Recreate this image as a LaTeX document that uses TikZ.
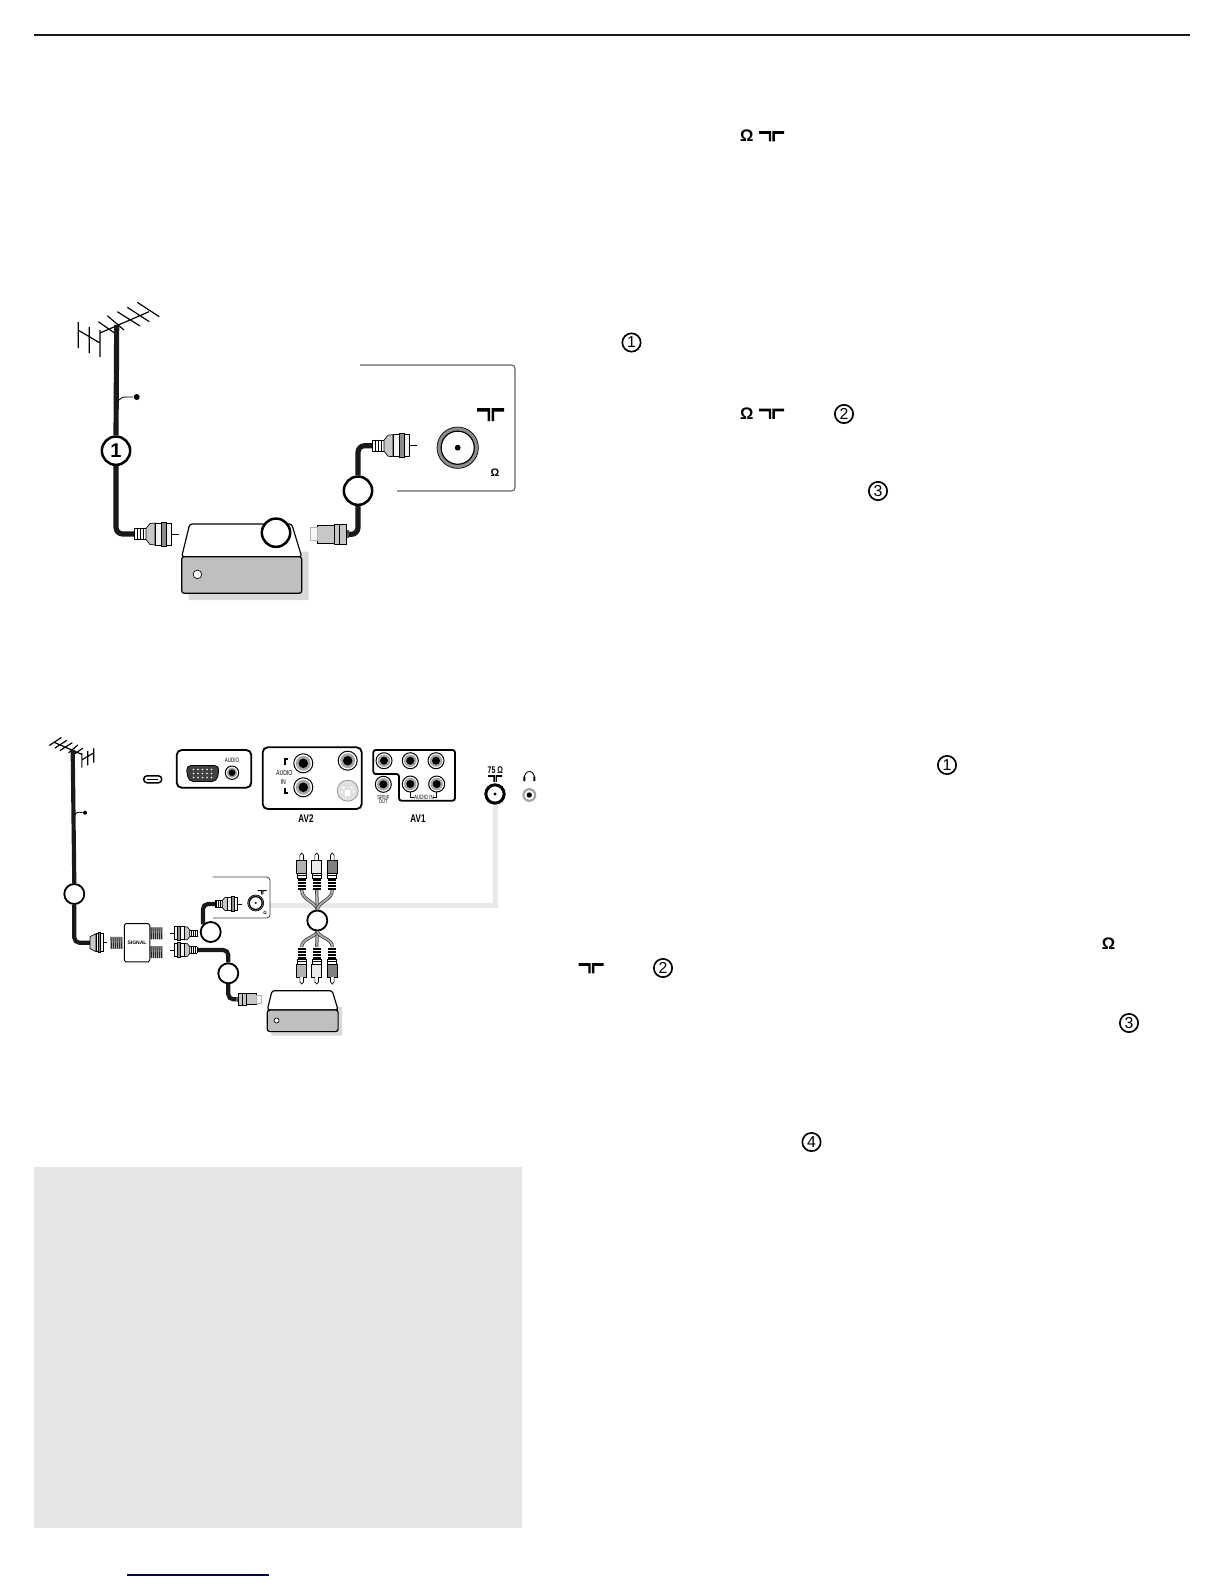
\documentclass[tikz,border=0pt]{standalone}
\usepackage{fontspec}
\setmainfont{Liberation Sans}
\newfontfamily\condfont[FakeStretch=0.72]{Liberation Sans}
\usetikzlibrary{positioning,shapes}
\tikzset{
cable/.style={line width=3.1pt,rounded corners=4pt,black!90},
cablethin/.style={line width=2.5pt,rounded corners=3pt,black!90},
numcirc/.style={circle,draw,fill=white,line width=1.5pt,minimum size=17pt,inner sep=0pt,font=\bfseries\fontsize{12}{12}\selectfont},
numsmall/.style={numcirc,line width=1.1pt,minimum size=12pt},
inlinenum/.style={circle,draw,line width=1pt,minimum size=11pt,inner sep=0pt,font=\fontsize{9.5}{9.5}\selectfont},
lbl/.style={inner sep=0pt,font=\condfont\fontsize{#1}{#1}\selectfont},
lblb/.style={inner sep=0pt,font=\condfont\bfseries\fontsize{#1}{#1}\selectfont},
panelline/.style={draw=black!60,line width=.7pt,rounded corners=2pt},
avpanel/.style={draw=black,line width=1.1pt,rounded corners=3pt},
rcacable/.style={draw=black!80,line width=1.9pt,postaction={draw=black!30,line width=1pt}},
pics/aerial/.style={code={
\draw[line width=.7pt] (-38.4,-3) -- (-38.4,23) (-27.4,2) -- (-27.4,28) (-16.7,5) -- (-16.7,32)
 (-38.7,5) -- (-16.7,18) (-16.7,8) -- (32.3,-13.3) (-18.4,-3.3) -- (-1.7,8.3) (-9.4,-9.3) -- (7.3,5)
 (0.6,-13.3) -- (23.3,1) (10.6,-17.7) -- (32.6,-3.3) (20.6,-22.7) -- (42.6,-8.3);
}},
pics/fplug/.style={code={
\fill[white] (0,-5.5) rectangle (12,5.5);
\foreach \k in {0,3,6,9,12} \draw[line width=.6pt] (\k,-5.5) -- (\k,5.5);
\draw[line width=.5pt] (0,-5.5) -- (12,-5.5) (0,5.5) -- (12,5.5);
\draw[fill=black!22,line width=.4pt] (12,-5.5) -- (16,-10.5) -- (21,-11) -- (21,11) -- (16,10.5) -- (12,5.5) -- cycle;
\draw[fill=black!5,line width=.6pt] (21,-11) rectangle (37,11);
\draw[fill=black!45,line width=.5pt] (27,-12) rectangle (32,12);
\draw[line width=.6pt] (37,0) -- (45,0);
}},
pics/fplugshort/.style={code={
\draw[fill=black!22,line width=.4pt] (0,-6) -- (6,-9) -- (6,9) -- (0,6) -- cycle;
\draw[fill=black!5,line width=.5pt] (6,-9) rectangle (13,9);
\draw[fill=black!45,line width=.4pt] (8.5,-10) rectangle (10.5,10);
\draw[line width=.5pt] (13,0) -- (17,0);
}},
pics/mplug/.style={code={
\fill[black!70] (0,-4) rectangle (3,4);
\draw[fill=black!22,line width=.5pt] (3,-10) rectangle (15,10);
\draw[line width=.5pt] (10,-10) -- (10,10);
\draw[fill=black!22,line width=.5pt] (15,-9) rectangle (32,9);
\draw[fill=black!3,draw=black!30,line width=.4pt] (32,-6.5) rectangle (39,6.5);
}},
pics/threadbit/.style={code={
\fill[black!30] (0,-6) rectangle (13,6);
\foreach \k in {1,3,5,7,9,11} \draw[line width=.55pt,black!85] (\k,-6) -- (\k+.6,6);
}},
pics/rcaplug/.style={code={
\foreach \k in {1.5,4.5,7.5,10.5} \draw[line width=1.2pt] (-4,-\k) -- (4,-\k);
\draw[fill=white,line width=.4pt] (-4.5,-12) rectangle (4.5,-17);
\draw[line width=.9pt] (-4.5,-14.5) -- (4.5,-14.5);
\draw[fill=#1,line width=.4pt] (-5,-17) rectangle (5,-30);
\draw[fill=white,line width=.4pt] (-1.8,-30) -- (-1.8,-35) -- (0,-37) -- (1.8,-35) -- (1.8,-30);
}},
pics/jackpic/.style={code={
\draw[fill=white,line width=.6pt] (0,0) circle (1);
\fill[black!35] (0,0) circle (.78);
\fill[black] (0,0) circle (.5);
}},
pics/phonejack/.style={code={
\fill[black!35] (0,0) circle (1);
\fill[white] (0,0) circle (.68);
\fill[black] (0,0) circle (.38);
}},
pics/coax/.style={code={
\draw[fill=black!45,line width=.4pt] (0,0) circle (1);
\draw[fill=white,line width=.7pt] (0,0) circle (.8);
\fill[black] (0,0) circle (.14);
}},
pics/tsym/.style={code={
\fill (0,0) rectangle (13,3.6) (10.5,0) rectangle (13,13) (14.5,0) rectangle (27,3.6) (14.5,0) rectangle (17,13);
}},
pics/recvbox/.style={code={
\fill[black!15] (7,0) -- (7,43.5) -- (127,43.5) -- (127,-5) -- (119,-5) -- cycle;
\draw[fill=white,line width=.7pt,rounded corners=1.5pt] (0,0) -- (8,-32.7) -- (110,-32.7) -- (120,0) -- cycle;
\draw[fill=black!25,line width=.7pt,rounded corners=1.5pt] (0,0) rectangle (120,36.6);
\draw[fill=white,line width=.4pt] (15.7,17.7) circle (4.3);
}}
}
\begin{document}
\begin{tikzpicture}[x=.6pt,y=-.6pt]
\useasboundingbox (0,0) rectangle (1224,1584);
\fill[black!10] (34,1167) rectangle (522,1528);
\draw[line width=1.2pt,black!90] (34,35) -- (1190,35);
\draw[line width=.9pt,blue!40!black] (127,1575) -- (269,1575);

\node[numcirc] (cableA) at (116,450.7) {1};
\node[numcirc] (cableB) at (358,490.7) {};
\coordinate (mastA) at (116.7,325);
\coordinate (plugA) at (134,534);
\coordinate (plugB) at (372,445.7);
\coordinate (plugC) at (349,534.3);
\node[circle,fill,inner sep=0pt,minimum size=3.6pt] (leadA) at (136.7,397) {};
\coordinate (leadAs) at (119,400);
\pic at (mastA) {aerial};
\draw[cable,rounded corners=0pt] (mastA) -- (cableA.north);
\draw[cable] (cableA.south) |- (plugA);
\draw[cable] (cableB.north) |- (plugB);
\draw[cable] (cableB.south) |- (plugC);
\draw[line width=.5pt] (leadAs) .. controls (121,397) .. (leadA);
\pic at (plugA) {fplug};
\pic at (plugB) {fplug};
\pic[rotate=180] at (plugC) {mplug};
\pic at (181.7,556.7) {recvbox};
\node[numcirc] (boxA) at (276,532.7) {};
\draw[panelline] (360,365) -- (515,365) -- (515,491) -- (397,491);
\pic at (477,408) {tsym};
\pic[scale=20.7] at (457.7,447.7) {coax};
\node[inner sep=0pt,font=\bfseries\fontsize{6.5}{6.5}\selectfont] (ohmA) at (495,473) {Ω};

\node[numsmall] (cableD) at (74.3,894) {};
\node[numsmall] (cableE) at (210.7,932) {};
\node[numsmall] (cableF) at (228.3,973.3) {};
\node[numsmall] (rcaC) at (317.3,920.5) {};
\coordinate (mastB) at (72.7,750);
\coordinate (plugD) at (90,942.7);
\coordinate (plugE) at (197,933.3);
\coordinate (plugF) at (197,950);
\coordinate (plugG) at (215,904);
\coordinate (plugH) at (236.7,999.3);
\coordinate (pan75) at (270,905.7);
\node[circle,fill,inner sep=0pt,minimum size=2.4pt] (leadB) at (85,812.7) {};
\coordinate (leadBs) at (75,815);
\node[circle,draw,line width=1.8pt,fill=white,minimum size=11pt,inner sep=0pt] (sock75) at (495,794) {};
\draw[line width=3pt,black!9] (pan75) -| (sock75.south);
\fill (sock75) circle (1.7);
\pic[xscale=-.55,yscale=.55] at (mastB) {aerial};
\draw[cablethin,rounded corners=0pt] (mastB) -- (cableD.north);
\draw[cablethin] (cableD.south) |- (plugD);
\draw[cablethin] (cableE.north west) |- (plugG);
\draw[cablethin] (plugF) -| (cableF.north);
\draw[cablethin] (cableF.south) |- (plugH);
\draw[line width=.5pt] (leadBs) .. controls (77,812) .. (leadB);
\pic at (plugD) {fplugshort};
\pic[scale=.6,rotate=180] at (plugE) {fplug};
\pic[scale=.6,rotate=180] at (plugF) {fplug};
\pic[scale=.6] at (plugG) {fplug};
\pic[scale=.62] at (plugH) {mplug};
\pic at (110,942.7) {threadbit};
\pic at (150,933.3) {threadbit};
\pic at (150,952) {threadbit};
\node[draw,fill=white,line width=.6pt,minimum width=15.3pt,minimum height=23pt,inner sep=0pt,rounded corners=1pt,font=\bfseries\fontsize{3}{3}\selectfont] (splitter) at (137,942.7) {SIGNAL};
\draw[panelline,draw=black!75,line width=.5pt] (212.7,877) -- (270,877) -- (270,918) -- (213,918);
\pic[scale=.33] at (257.7,890) {tsym};
\pic[scale=8] at (255.7,903) {coax};
\node[inner sep=0pt,font=\bfseries\fontsize{2.5}{2.5}\selectfont] (ohmB) at (265,912.7) {Ω};
\pic[scale=.59] at (267.3,1010) {recvbox};

\coordinate (rcaTL) at (301.7,890);
\coordinate (rcaTM) at (316.7,890);
\coordinate (rcaTR) at (332.3,890);
\coordinate (rcaBL) at (301.7,947);
\coordinate (rcaBM) at (316.7,947);
\coordinate (rcaBR) at (332.3,947);
\path[rcacable] (rcaC.north) .. controls (315,901) and (301.7,900) .. (rcaTL);
\path[rcacable] (rcaC.north) -- (rcaTM);
\path[rcacable] (rcaC.north) .. controls (319,901) and (332.3,900) .. (rcaTR);
\path[rcacable] (rcaC.south) .. controls (315,938) and (301.7,938) .. (rcaBL);
\path[rcacable] (rcaC.south) -- (rcaBM);
\path[rcacable] (rcaC.south) .. controls (319,938) and (332.3,938) .. (rcaBR);
\pic at (rcaTL) {rcaplug=black!30};
\pic at (rcaTM) {rcaplug=black!8};
\pic at (rcaTR) {rcaplug=black!50};
\pic[yscale=-1] at (rcaBL) {rcaplug=black!30};
\pic[yscale=-1] at (rcaBM) {rcaplug=black!8};
\pic[yscale=-1] at (rcaBR) {rcaplug=black!50};

\draw[line width=.9pt,fill=white,rounded corners=2pt] (143.7,775.8) rectangle (161.7,782.8);
\draw[line width=.8pt] (147,779.3) -- (158.4,779.3);
\draw[avpanel] (176.7,750) rectangle (251.3,787.7);
\draw[fill=black!75,line width=.5pt,rounded corners=3pt] (186,765.5) -- (219.5,765.5) -- (217,781.5) -- (188.5,781.5) -- cycle;
\foreach \k in {0,...,4} \fill[white] (193.5+\k*4.5,769.5) circle (.8) (193.5+\k*4.5,773.5) circle (.8) (193.5+\k*4.5,777.5) circle (.8);
\pic[scale=6.7] at (232,772.7) {jackpic};
\node[lbl=3.8] (audioV) at (232,760) {AUDIO};

\draw[avpanel] (262.7,747.3) rectangle (361.7,809);
\pic[scale=9.5] at (303.3,763.3) {jackpic};
\pic[scale=9.5] at (303.3,787.3) {jackpic};
\pic[scale=9.5] at (347.7,760.7) {jackpic};
\draw[line width=1pt] (284.8,765) -- (284.8,758.8) -- (288,758.8) (284.8,788.3) -- (284.8,792.8) -- (288,792.8);
\node[lbl=4.3] (audioA) at (284.3,772.7) {AUDIO};
\node[lbl=4.3] (audioB) at (283.3,781.7) {IN};
\draw[fill=black!12,draw=black!40,line width=.5pt] (347.7,790.7) circle (10.5);
\foreach \a/\b in {-4/-3,4/-3,-6/1,6/1} \fill[white] (347.7+\a,790.7+\b) circle (1.3);
\fill[white] (345,790) rectangle (350.4,796);
\node[lblb=6.7] (avB) at (306,819) {AV2};

\draw[avpanel,rounded corners=1.5pt] (373.3,750) -- (455,750) -- (455,800.7) -- (399,800.7) -- (399,774) -- (373.3,774) -- cycle;
\foreach \a/\b in {384/760.7,410.3/760.7,436/760.7,410.3/784,436.7/784} \pic[scale=8] at (\a,\b) {jackpic};
\pic[scale=8] at (383.3,784.3) {jackpic};
\node[lbl=3.4] (spdifA) at (383.3,797.3) {SPDIF};
\node[lbl=3.4] (spdifB) at (383.3,802) {OUT};
\draw[line width=.6pt] (410.7,791.7) -- (410.7,797.7) -- (414,797.7) (436.7,791.7) -- (436.7,797.7) -- (433.3,797.7);
\node[lbl=3.7] (audioC) at (424,797.3) {AUDIO IN};
\node[lblb=6.7] (avA) at (418,819) {AV1};

\node[lblb=5.8] (ohm75) at (495.3,770) {75 Ω};
\pic[scale=.52] at (488,775) {tsym};
\draw[line width=.5pt] (524.2,779) .. controls (524.2,769) and (534.6,769) .. (534.6,779);
\fill (523.4,776.5) rectangle (525.4,781) (533.4,776.5) rectangle (535.4,781);
\pic[scale=7] at (529.3,795) {phonejack};

\node[inner sep=0pt,font=\bfseries\fontsize{10}{10}\selectfont] (ohmC) at (746.7,135.4) {Ω};
\pic[xscale=.93,yscale=.8] at (759,131) {tsym};
\node[inlinenum] (refA) at (631.5,342.5) {1};
\node[inner sep=0pt,font=\bfseries\fontsize{10}{10}\selectfont] (ohmD) at (746.7,413.3) {Ω};
\pic[xscale=.93,yscale=.8] at (759,408.5) {tsym};
\node[inlinenum] (refB) at (844,414) {2};
\node[inlinenum] (refC) at (878,491) {3};
\node[inlinenum] (refD) at (947,765) {1};
\node[inner sep=0pt,font=\bfseries\fontsize{10}{10}\selectfont] (ohmE) at (1108.6,944) {Ω};
\pic[xscale=.93,yscale=.8] at (578.5,963) {tsym};
\node[inlinenum] (refE) at (663,968) {2};
\node[inlinenum] (refF) at (1129,1023) {3};
\node[inlinenum] (refG) at (811.5,1142) {4};
\end{tikzpicture}
\end{document}
